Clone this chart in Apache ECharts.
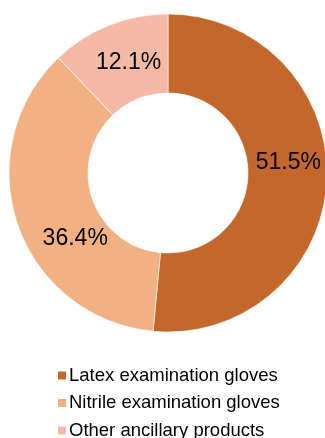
<!DOCTYPE html>
<html>
<head>
<meta charset="utf-8">
<script src="https://cdn.jsdelivr.net/npm/echarts@6/dist/echarts.min.js"></script>
<style>
  html, body { margin: 0; padding: 0; background: #fff; }
  #chart { width: 325px; height: 438px; }
</style>
</head>
<body>
<div id="chart"></div>
<script>
// Glove product mix, share of revenue (%)
const categories = ['Latex examination gloves', 'Nitrile examination gloves', 'Other ancillary products'];
const shares = [51.5, 36.4, 12.1];
const colors = ['#C4672A', '#F2B183', '#F3B9A5'];

// Per-slice nudges for the percentage labels
const labelNudge = [[-2, -16], [23, 26], [6, 3]];

const chart = echarts.init(document.getElementById('chart'), null, { renderer: 'canvas' });

chart.setOption({
  animation: false,
  color: colors,
  legend: {
    orient: 'vertical',
    left: 51,
    top: 361,
    height: 80,
    itemWidth: 10,
    itemHeight: 10,
    itemGap: 8.5,
    icon: 'rect',
    textStyle: {
      fontFamily: 'Liberation Sans, Arial, sans-serif',
      fontSize: 18.5,
      lineHeight: 18,
      color: '#000',
      padding: [0, 0, 0, -3]
    },
    data: categories
  },
  series: [{
    type: 'pie',
    center: [168, 173],
    radius: [80, 159],
    startAngle: 90,
    clockwise: true,
    avoidLabelOverlap: false,
    itemStyle: { borderColor: '#fff', borderWidth: 0.6 },
    label: {
      show: true,
      position: 'inside',
      formatter: p => p.value.toFixed(1) + '%',
      fontFamily: 'Liberation Sans, Arial, sans-serif',
      fontSize: 23,
      color: '#000'
    },
    labelLayout: p => ({ dx: labelNudge[p.dataIndex][0], dy: labelNudge[p.dataIndex][1] }),
    labelLine: { show: false },
    emphasis: { disabled: true },
    data: categories.map((name, i) => ({ name, value: shares[i] }))
  }]
});
</script>
</body>
</html>
